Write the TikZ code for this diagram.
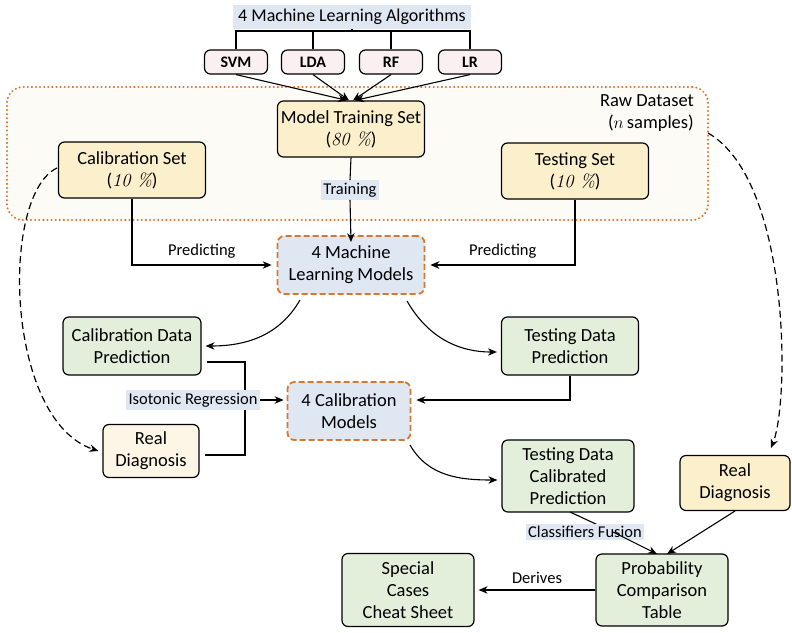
\documentclass[tikz,border=0pt]{standalone}
\usepackage{fontspec}
\setmainfont{Carlito}
\newfontfamily\lmfont{Latin Modern Roman}
\usetikzlibrary{arrows.meta}
\definecolor{orng}{HTML}{D9772F}
\definecolor{lblue}{HTML}{DFE7F3}
\definecolor{lyel}{HTML}{FCEFCB}
\definecolor{lcream}{HTML}{FDF5E6}
\definecolor{lgreen}{HTML}{E3EFDA}
\definecolor{lpink}{HTML}{FAEFF1}
\definecolor{rawbg}{HTML}{FDFBF5}
\newcommand{\pct}[1]{({\lmfont\itshape #1 \%})}
\begin{document}
\begin{tikzpicture}[x=1pt,y=-1pt,
  font=\fontsize{18.5}{22}\selectfont,
  box/.style={draw=black,line width=1.2pt,rounded corners=6pt,align=center,inner sep=1pt},
  algbox/.style={box,fill=lpink,minimum width=63pt,minimum height=24pt,font=\fontsize{16}{18}\selectfont\bfseries},
  yelbox/.style={box,fill=lyel,minimum width=147pt,minimum height=56pt},
  grnbox/.style={box,fill=lgreen},
  mlbox/.style={draw=orng,line width=1.8pt,dash pattern=on 6pt off 3pt,fill=lblue,rounded corners=7pt,align=center,inner sep=1pt},
  lbl/.style={fill=lblue,inner sep=2.5pt,font=\fontsize{16.5}{19}\selectfont},
  elbl/.style={font=\fontsize{16.5}{19}\selectfont},
  arr/.style={-{Stealth[length=9pt,width=7.5pt]},line width=1.1pt},
  ln/.style={line width=1.1pt}]
\useasboundingbox (0,0) rectangle (792,632);
% raw dataset
\node[draw=orng,line width=2.2pt,dash pattern=on 0.1pt off 4pt,line cap=round,fill=rawbg,rounded corners=16pt,minimum width=701pt,minimum height=133pt] (raw) at (357.5,153.5) {};
\node[anchor=north east,align=right,inner sep=0pt] (rawlbl) at (694,94) {Raw Dataset\\($n$\,samples)};
% title
\node[lbl,minimum width=238pt,minimum height=24pt,font=\fontsize{18}{20}\selectfont] (title) at (352,17) {4 Machine Learning Algorithms};
\node[algbox] (svm) at (236,62) {SVM};
\node[algbox] (lda) at (313,62) {LDA};
\node[algbox] (rf) at (391,62) {RF};
\node[algbox] (lr) at (470,62) {LR};
\coordinate (tb) at (352,31);
\draw[ln] (svm.north) |- (tb) -| (lr.north);
\draw[ln] (lda.north) -- (lda.north |- tb);
\draw[ln] (rf.north) -- (rf.north |- tb);
\draw[ln] (title.south) -- (tb);
% sets
\node[yelbox] (mts) at (351,129) {Model Training Set\\\pct{80}};
\node[yelbox] (cal) at (132,170) {Calibration Set\\\pct{10}};
\node[yelbox] (tst) at (575,171) {Testing Set\\\pct{10}};
\draw[arr] (svm.south) -- ([xshift=-4pt]mts.north);
\draw[arr] (lda.south) -- ([xshift=-2pt]mts.north);
\draw[arr] (rf.south) -- ([xshift=2pt]mts.north);
\draw[arr] (lr.south) -- ([xshift=4pt]mts.north);
% ML models
\node[mlbox,minimum width=147pt,minimum height=58pt] (ml) at (351,265) {4 Machine\\Learning Models};
\node[lbl] (train) at (350,190) {Training};
\draw[ln] (mts.south) -- (train.north);
\draw[arr] (train.south) -- ([yshift=-7pt]ml.north);
\draw[arr] (cal.south) |- node[pos=0.75,above=3pt,elbl]{Predicting} ([xshift=-5pt]ml.west);
\draw[arr] (tst.south) |- node[pos=0.75,above=3pt,elbl]{Predicting} ([xshift=5pt]ml.east);
% predictions
\node[grnbox,minimum width=138pt,minimum height=58pt] (cdp) at (132,346) {Calibration Data\\Prediction};
\node[grnbox,minimum width=137pt,minimum height=58pt] (tdp) at (570,346) {Testing Data\\Prediction};
\draw[arr] (300,300) to[out=-120,in=0] ([xshift=4pt]cdp.east);
\draw[arr] (407,301) to[out=-60,in=180] ([xshift=-4pt,yshift=-6pt]tdp.west);
% calibration models
\node[mlbox,minimum width=123pt,minimum height=58pt] (cm) at (349,411) {4 Calibration\\Models};
\node[box,fill=lcream,minimum width=96pt,minimum height=53pt] (rdl) at (151,451) {Real\\Diagnosis};
\coordinate (brk) at (245,402);
\draw[ln] ([xshift=5pt,yshift=-16pt]cdp.east) -| (brk) |- ([xshift=5pt,yshift=-4pt]rdl.east);
\node[lbl] (iso) at (193,400) {Isotonic Regression};
\draw[arr] (iso.east) -- ([xshift=-3pt]cm.west |- iso.east);
\draw[arr] (tdp.south) |- ([xshift=5pt]cm.east |- iso.east);
% calibrated prediction
\node[grnbox,minimum width=132pt,minimum height=72pt] (tdcp) at (568,476) {Testing Data\\Calibrated\\Prediction};
\draw[arr] (410,445) to[out=-60,in=180] ([xshift=-4pt,yshift=-4pt]tdcp.west);
\node[box,fill=lyel,minimum width=110pt,minimum height=55pt] (rdr) at (735,483) {Real\\Diagnosis};
% dashed curves
\draw[arr,dash pattern=on 7pt off 4pt,line width=1.2pt] (57,168) .. controls (0,195) and (5,420) .. ([xshift=-4pt]rdl.west);
\draw[arr,dash pattern=on 7pt off 4pt,line width=1.2pt] (708,133) .. controls (790,180) and (790,400) .. (771,448);
% bottom
\node[grnbox,minimum width=132pt,minimum height=72pt] (pct) at (662,590) {Probability\\Comparison\\Table};
\node[grnbox,minimum width=132pt,minimum height=73pt] (scc) at (408,590) {Special\\Cases\\Cheat Sheet};
\draw[ln] (570,512) -- (613,532);
\node[lbl] (fus) at (585,532) {Classifiers Fusion};
\draw[arr] (613,532) -- (657,554);
\draw[arr] (735,511) -- (667,554);
\draw[arr] (pct.west) -- node[above=3pt,elbl]{Derives} ([xshift=4pt]scc.east);
\end{tikzpicture}
\end{document}
